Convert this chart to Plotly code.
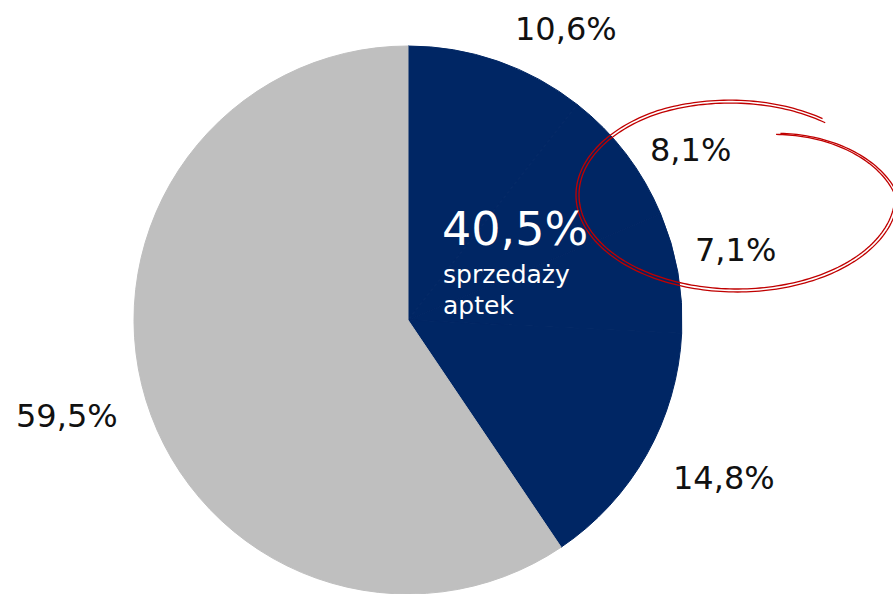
import numpy as np
import plotly.graph_objects as go

# ---- data ----
slice_names = ["Segment A", "Segment B", "Segment C", "Segment D", "Pozostałe"]
slice_values = [10.6, 8.1, 7.1, 14.8, 59.5]
slice_labels = ["10,6%", "8,1%", "7,1%", "14,8%", "59,5%"]
center_value = "40,5%"
center_caption = ["sprzedaży", "aptek"]

# ---- style / layout ----
W, H = 893, 594
NAVY = "#002664"
GRAY = "#BFBFBF"
slice_colors = [NAVY, NAVY, NAVY, NAVY, GRAY]
FONT = "DejaVu Sans, Verdana, sans-serif"

def px(x):
    return x / W

def py(y):
    return 1 - y / H

# pie placement (pixels)
cx, cy, r = 408, 320, 274

fig = go.Figure()
fig.add_trace(go.Pie(
    labels=slice_names,
    values=slice_values,
    sort=False,
    direction="clockwise",
    rotation=0,
    textinfo="none",
    hoverinfo="label+value",
    marker=dict(colors=slice_colors, line=dict(color=slice_colors, width=1)),
    domain=dict(x=[px(cx - r), px(cx + r)], y=[py(cy + r), py(cy - r)]),
    showlegend=False,
))

# outside labels (text positions, pixels)
label_pos = [(566, 29), (690, 150), (735, 250), (724, 478), (67, 416)]
annotations = []
for txt, (lx, ly) in zip(slice_labels, label_pos):
    annotations.append(dict(
        x=px(lx), y=py(ly), xref="paper", yref="paper",
        text=txt, showarrow=False, xanchor="center", yanchor="middle",
        font=dict(family=FONT, size=32, color="#111111"),
    ))

# centre text
annotations.append(dict(
    x=px(440), y=py(229), xref="paper", yref="paper",
    text=center_value, showarrow=False, xanchor="left", yanchor="middle",
    font=dict(family=FONT, size=46, color="white"),
))
for i, line in enumerate(center_caption):
    annotations.append(dict(
        x=px(441), y=py(274 + 31 * i), xref="paper", yref="paper",
        text=line, showarrow=False, xanchor="left", yanchor="middle",
        font=dict(family=FONT, size=25, color="white"),
    ))

# hand-drawn red loop (decoration)
def loop_path(ecx, ecy, rx, ry, a0, a1, n=240):
    t = np.linspace(a0, a1, n)
    rr = np.ones_like(t)
    m1 = t < 120
    rr[m1] = 0.95 + 0.05 * (t[m1] - a0) / (120 - a0)
    m2 = t > 360
    rr[m2] = 1.0 - 0.31 * (t[m2] - 360) / (a1 - 360)
    rad = np.deg2rad(t)
    xs = ecx + rx * rr * np.cos(rad)
    ys = ecy - ry * rr * np.sin(rad)
    pts = [f"{px(x):.5f},{py(y):.5f}" for x, y in zip(xs, ys)]
    return "M " + " L ".join(pts)

shapes = [
    dict(type="path", xref="paper", yref="paper", layer="above",
         path=loop_path(737, 195, 158, 94, 54, 429),
         line=dict(color="#C00000", width=1.3)),
    dict(type="path", xref="paper", yref="paper", layer="above",
         path=loop_path(737, 195, 161, 97, 56, 427),
         line=dict(color="#C00000", width=1.3)),
]

fig.update_layout(
    width=W, height=H,
    margin=dict(l=0, r=0, t=0, b=0),
    paper_bgcolor="white", plot_bgcolor="white",
    annotations=annotations,
    shapes=shapes,
    showlegend=False,
)

fig.write_html("out.html", config={"displayModeBar": False},
               post_script="document.body.style.margin='0px';")
